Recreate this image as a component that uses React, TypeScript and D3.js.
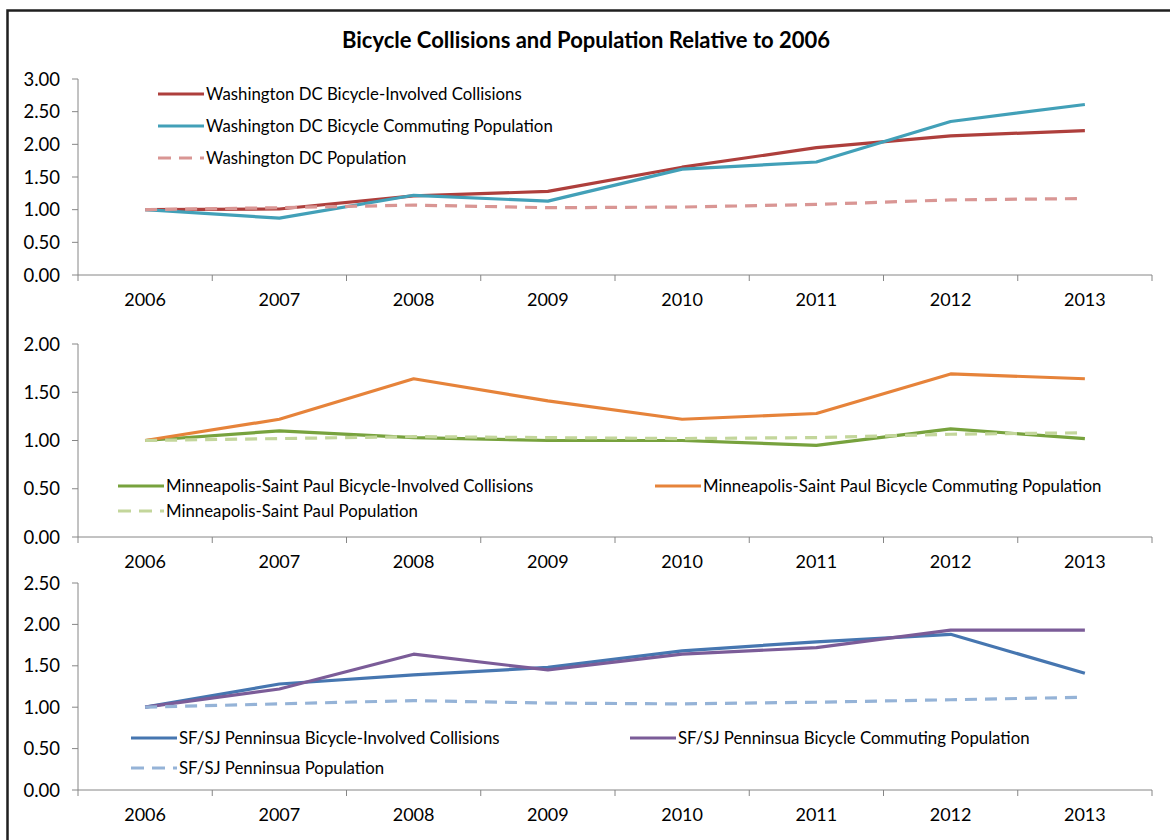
import React from 'react';
import * as d3 from 'd3';

const years = ['2006', '2007', '2008', '2009', '2010', '2011', '2012', '2013'];

const dcCollisions = [1.0, 1.01, 1.21, 1.28, 1.65, 1.95, 2.13, 2.21];
const dcCommuting = [1.0, 0.87, 1.22, 1.13, 1.62, 1.73, 2.35, 2.61];
const dcPopulation = [1.0, 1.03, 1.07, 1.03, 1.04, 1.08, 1.15, 1.17];

const mspCollisions = [1.0, 1.1, 1.03, 1.0, 1.0, 0.95, 1.12, 1.02];
const mspCommuting = [1.0, 1.22, 1.64, 1.41, 1.22, 1.28, 1.69, 1.64];
const mspPopulation = [1.0, 1.02, 1.04, 1.03, 1.02, 1.03, 1.065, 1.08];

const sfCollisions = [1.0, 1.28, 1.39, 1.48, 1.68, 1.79, 1.88, 1.41];
const sfCommuting = [1.0, 1.22, 1.64, 1.45, 1.64, 1.72, 1.93, 1.93];
const sfPopulation = [1.0, 1.04, 1.08, 1.05, 1.04, 1.06, 1.09, 1.12];

const title = 'Bicycle Collisions and Population Relative to 2006';

const FONT = 'Lato, "Open Sans", sans-serif';
const AXIS = '#868686';
const LEFT = 78;
const RIGHT = 1152;

type Series = { name: string; values: number[]; color: string; dashed?: boolean };
type Legend = { x: number; y: number };

const x = d3.scaleBand<string>().domain(years).range([LEFT, RIGHT]);
const cx = (yr: string) => (x(yr) as number) + x.bandwidth() / 2;

function Panel({
  yMax,
  top,
  bottom,
  series,
  legends,
}: {
  yMax: number;
  top: number;
  bottom: number;
  series: Series[];
  legends: Legend[];
}) {
  const y = d3.scaleLinear().domain([0, yMax]).range([bottom, top]);
  const ticks = d3.range(0, yMax + 0.001, 0.5);
  const line = d3
    .line<number>()
    .x((_, i) => cx(years[i]))
    .y(d => y(d));
  const bounds = years.map(yr => x(yr) as number).concat([RIGHT]);

  return (
    <g>
      <line x1={LEFT} x2={LEFT} y1={top} y2={bottom} stroke={AXIS} />
      {ticks.map(t => (
        <g key={t}>
          <line x1={LEFT - 6} x2={LEFT} y1={y(t)} y2={y(t)} stroke={AXIS} />
          <text x={60} y={y(t)} dy="0.36em" textAnchor="end" fontSize={18.5} fontFamily={FONT}>
            {t.toFixed(2)}
          </text>
        </g>
      ))}
      <line x1={LEFT} x2={RIGHT} y1={bottom} y2={bottom} stroke={AXIS} />
      {bounds.map(b => (
        <line key={b} x1={b} x2={b} y1={bottom} y2={bottom + 6} stroke={AXIS} />
      ))}
      {years.map(yr => (
        <text key={yr} x={cx(yr)} y={bottom + 25} dy="0.36em" textAnchor="middle" fontSize={18} fontFamily={FONT}>
          {yr}
        </text>
      ))}
      {series.map(s => (
        <path
          key={s.name}
          d={line(s.values) || ''}
          fill="none"
          stroke={s.color}
          strokeWidth={3.2}
          strokeDasharray={s.dashed ? '12,8' : undefined}
          strokeLinejoin="round"
        />
      ))}
      {series.map((s, i) => {
        const l = legends[i];
        return (
          <g key={s.name} transform={`translate(${l.x},${l.y})`}>
            <line
              x1={0}
              x2={46}
              y1={0}
              y2={0}
              stroke={s.color}
              strokeWidth={3.2}
              strokeDasharray={s.dashed ? '13,8' : undefined}
            />
            <text x={48} y={0} dy="0.36em" fontSize={16.8} fontFamily={FONT}>
              {s.name}
            </text>
          </g>
        );
      })}
    </g>
  );
}

export default function App() {
  return (
    <svg
      width={1170}
      height={840}
      style={{ position: 'absolute', left: 0, top: 0, background: '#fff' }}
    >
      <rect x={0} y={0} width={1170} height={840} fill="#fff" />
      <rect x={7.5} y={10.5} width={1300} height={1000} fill="none" stroke="#1f1f1f" strokeWidth={2.5} />
      <text x={586} y={40} dy="0.36em" textAnchor="middle" fontSize={22} fontWeight="bold" fontFamily={FONT}>
        {title}
      </text>
      <Panel
        yMax={3}
        top={79}
        bottom={275}
        series={[
          { name: 'Washington DC Bicycle-Involved Collisions', values: dcCollisions, color: '#AE3F3C' },
          { name: 'Washington DC Bicycle Commuting Population', values: dcCommuting, color: '#42A0B8' },
          { name: 'Washington DC Population', values: dcPopulation, color: '#D99694', dashed: true },
        ]}
        legends={[
          { x: 158, y: 94 },
          { x: 158, y: 126 },
          { x: 158, y: 158 },
        ]}
      />
      <Panel
        yMax={2}
        top={344}
        bottom={537}
        series={[
          { name: 'Minneapolis-Saint Paul Bicycle-Involved Collisions', values: mspCollisions, color: '#77A23D' },
          { name: 'Minneapolis-Saint Paul Bicycle Commuting Population', values: mspCommuting, color: '#E6833A' },
          { name: 'Minneapolis-Saint Paul Population', values: mspPopulation, color: '#C3D69B', dashed: true },
        ]}
        legends={[
          { x: 118, y: 486 },
          { x: 655, y: 486 },
          { x: 118, y: 511 },
        ]}
      />
      <Panel
        yMax={2.5}
        top={583}
        bottom={790}
        series={[
          { name: 'SF/SJ Penninsua Bicycle-Involved Collisions', values: sfCollisions, color: '#4676B0' },
          { name: 'SF/SJ Penninsua Bicycle Commuting Population', values: sfCommuting, color: '#7B5C98' },
          { name: 'SF/SJ Penninsua Population', values: sfPopulation, color: '#95B3D7', dashed: true },
        ]}
        legends={[
          { x: 131, y: 738 },
          { x: 630, y: 738 },
          { x: 131, y: 768 },
        ]}
      />
    </svg>
  );
}
